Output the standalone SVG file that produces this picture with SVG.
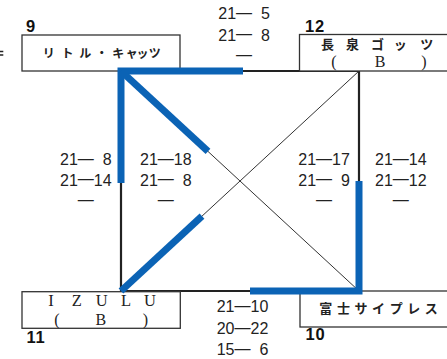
<svg xmlns="http://www.w3.org/2000/svg" width="447" height="359" viewBox="0 0 447 359">
<style>
.box{fill:#fff;stroke:#333;stroke-width:1.3}
.sq{fill:none;stroke:#222;stroke-width:2.2}
.dg{fill:none;stroke:#333;stroke-width:1}
.bl{fill:none;stroke:#0b63b5;stroke-width:7;stroke-linejoin:miter;stroke-linecap:butt}
.jp{font-family:"Noto Sans CJK JP",sans-serif;font-weight:bold;fill:#222;text-anchor:middle}
.sf{font-family:"Liberation Serif","Noto Serif CJK JP",serif;fill:#222;text-anchor:middle}
.sc{font-family:"Liberation Sans",sans-serif;font-size:16px;fill:#222}
.num{font-family:"Liberation Sans",sans-serif;font-weight:bold;font-size:16.5px;fill:#111;letter-spacing:0.8px}
</style>
<rect width="447" height="359" fill="#fff"/>
<g id="mark"><path d="M0,51.5H3.3M0,55H3.3" stroke="#222" stroke-width="1.5"/></g>
<g id="connectors">
<path class="sq" d="M121,71H359V291H121Z"/>
<path class="dg" d="M121,71L359,291M359,71L121,291"/>
</g>
<g id="team9">
<rect class="box" x="22" y="35" width="158" height="36"/>
<text class="jp" font-size="12" x="48.8 67.5 85.3 101.7 118.3 131.7 142.5 154.7" y="58">リトル・キャッツ</text>
<text class="num" x="26" y="32">9</text>
</g>
<g id="team12">
<rect class="box" x="299.5" y="34.5" width="160" height="36.5"/>
<text class="jp" font-size="13" x="327.5 352.5 377.5 400.3 426.7" y="49">長泉ゴッツ</text>
<text class="sf" font-size="16" x="334 380 424" y="66.7">(B)</text>
<text class="num" x="305" y="31.7">12</text>
</g>
<g id="team11">
<rect class="box" x="22" y="291.7" width="158.3" height="36.6"/>
<text class="sf" font-size="16.5" x="51 76.7 101.7 126 150" y="306">IZULU</text>
<text class="sf" font-size="16" x="57 100.8 145.5" y="325">(B)</text>
<text class="num" x="26.5" y="342.7">11</text>
</g>
<g id="team10">
<rect class="box" x="300" y="291" width="160" height="36"/>
<text class="jp" font-size="13" x="325.8 343.4 361 378.6 396.2 413.8 431.3" y="313.3">富士サイプレス</text>
<text class="num" x="305.5" y="340">10</text>
</g>
<g id="wins">
<path class="bl" d="M243,71H121V183"/>
<path class="bl" d="M121,71L208,151.4"/>
<path class="bl" d="M121,291L202,216.1"/>
<path class="bl" d="M250,291H359V181"/>
</g>
<g id="scores">
<text class="sc" x="218.3" y="19">21<tspan dy="-1.4">—</tspan><tspan dx="8.9" dy="1.4">5</tspan></text>
<text class="sc" x="218.3" y="40.7">21<tspan dy="-1.4">—</tspan><tspan dx="8.9" dy="1.4">8</tspan></text>
<text class="sc" x="236.1" y="60">—</text>

<text class="sc" x="60" y="165">21<tspan dy="-1.4">—</tspan><tspan dx="8.9" dy="1.4">8</tspan></text>
<text class="sc" x="60" y="185.7">21<tspan dy="-1.4">—</tspan><tspan dy="1.4">14</tspan></text>
<text class="sc" x="77.8" y="205">—</text>

<text class="sc" x="140" y="165">21<tspan dy="-1.4">—</tspan><tspan dy="1.4">18</tspan></text>
<text class="sc" x="140" y="185.7">21<tspan dy="-1.4">—</tspan><tspan dx="8.9" dy="1.4">8</tspan></text>
<text class="sc" x="157.8" y="205">—</text>

<text class="sc" x="298.3" y="165">21<tspan dy="-1.4">—</tspan><tspan dy="1.4">17</tspan></text>
<text class="sc" x="298.3" y="185.7">21<tspan dy="-1.4">—</tspan><tspan dx="8.9" dy="1.4">9</tspan></text>
<text class="sc" x="316.1" y="205">—</text>

<text class="sc" x="375" y="165">21<tspan dy="-1.4">—</tspan><tspan dy="1.4">14</tspan></text>
<text class="sc" x="375" y="185.7">21<tspan dy="-1.4">—</tspan><tspan dy="1.4">12</tspan></text>
<text class="sc" x="392.8" y="205">—</text>

<text class="sc" x="216.7" y="312.3">21<tspan dy="-1.4">—</tspan><tspan dy="1.4">10</tspan></text>
<text class="sc" x="216.7" y="334">20<tspan dy="-1.4">—</tspan><tspan dy="1.4">22</tspan></text>
<text class="sc" x="216.7" y="355.4">15<tspan dy="-1.4">—</tspan><tspan dx="8.9" dy="1.4">6</tspan></text>
</g>
</svg>
